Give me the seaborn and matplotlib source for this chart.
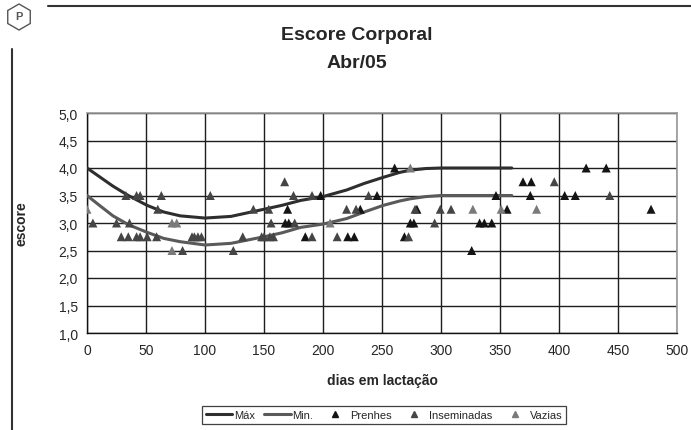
import numpy as np
import pandas as pd
import matplotlib.pyplot as plt
import matplotlib.ticker as mticker
from matplotlib.lines import Line2D
from matplotlib.patches import RegularPolygon
import seaborn as sns

# ---- curves (reference lines) ----
curve_days = [0, 10, 22, 35, 51, 65, 79, 100, 122, 150, 165, 181, 200, 220, 235, 251, 265, 274, 287, 300, 330, 360]
max_score = [4.0, 3.85, 3.67, 3.5, 3.32, 3.2, 3.13, 3.09, 3.12, 3.25, 3.32, 3.41, 3.48, 3.6, 3.72, 3.83, 3.92, 3.96, 3.99, 4.0, 4.0, 4.0]
min_score = [3.5, 3.33, 3.13, 2.97, 2.83, 2.72, 2.66, 2.6, 2.63, 2.75, 2.82, 2.92, 2.98, 3.08, 3.2, 3.32, 3.4, 3.44, 3.48, 3.5, 3.5, 3.5]

# ---- cows ----
prenhes_days = [170, 168, 171, 185, 198, 221, 226.5, 231.6, 245.8, 260.7, 269, 274, 277, 279.6, 326,
                332.7, 336.7, 343, 346.6, 356, 369.5, 376.5, 375.7, 404.8, 413.8, 423, 440, 478]
prenhes_score = [3.25, 3.0, 3.0, 2.75, 3.5, 2.75, 2.75, 3.25, 3.5, 4.0, 2.75, 3.0, 3.0, 3.25, 2.5,
                 3.0, 3.0, 3.0, 3.5, 3.25, 3.75, 3.75, 3.5, 3.5, 3.5, 4.0, 4.0, 3.25]

insem_days = [5, 25, 29, 33, 35, 36, 42, 45, 42, 45, 51, 59, 60, 63, 81, 89, 91, 94, 97, 104.5, 124, 132,
              141, 148, 150, 154, 155, 156, 158, 167.5, 175, 176, 190.7, 190.7, 212, 220, 228, 238.6,
              272.5, 278, 294.6, 299.4, 308.5, 396, 443]
insem_score = [3.0, 3.0, 2.75, 3.5, 2.75, 3.0, 3.5, 3.5, 2.75, 2.75, 2.75, 2.75, 3.25, 3.5, 2.5, 2.75, 2.75,
               2.75, 2.75, 3.5, 2.5, 2.75, 3.25, 2.75, 2.75, 3.25, 2.75, 3.0, 2.75, 3.75, 3.5, 3.0, 2.75,
               3.5, 2.75, 3.25, 3.25, 3.5, 2.75, 3.25, 3.0, 3.25, 3.25, 3.75, 3.5]

vazias_days = [0, 72, 76, 72, 206, 274, 327, 351, 381]
vazias_score = [3.25, 3.0, 3.0, 2.5, 3.0, 4.0, 3.25, 3.25, 3.25]

groups = ["Prenhes", "Inseminadas", "Vazias"]
colors = {"Prenhes": "#141414", "Inseminadas": "#454545", "Vazias": "#7a7a7a"}

df = pd.concat([
    pd.DataFrame({"dias": prenhes_days, "escore": prenhes_score, "grupo": "Prenhes"}),
    pd.DataFrame({"dias": insem_days, "escore": insem_score, "grupo": "Inseminadas"}),
    pd.DataFrame({"dias": vazias_days, "escore": vazias_score, "grupo": "Vazias"}),
])

sns.set_style("white")
plt.rcParams["font.family"] = ["Liberation Sans", "DejaVu Sans"]

fig = plt.figure(figsize=(6.91, 4.31), dpi=100)
ax = fig.add_axes([87 / 691, 1 - 334 / 431, 590 / 691, 220 / 431])

sns.lineplot(x=curve_days, y=max_score, color="#2e2e2e", lw=2.2, ax=ax, zorder=3)
sns.lineplot(x=curve_days, y=min_score, color="#5a5a5a", lw=2.2, ax=ax, zorder=3)
sns.scatterplot(data=df, x="dias", y="escore", hue="grupo", hue_order=groups, palette=colors,
                marker="^", s=42, linewidth=0, ax=ax, legend=False, zorder=4)

ax.set_xlim(0, 500)
ax.set_ylim(1.0, 5.0)
ax.set_xticks(np.arange(0, 501, 50))
ax.set_yticks(np.arange(1.0, 5.01, 0.5))
ax.yaxis.set_major_formatter(mticker.FuncFormatter(lambda v, p: f"{v:.1f}".replace(".", ",")))
ax.grid(True, color="#1e1e1e", lw=1.0)
ax.set_axisbelow(True)
for s in ["top", "right"]:
    ax.spines[s].set_color("#999999")
    ax.spines[s].set_linewidth(1.2)
for s in ["left", "bottom"]:
    ax.spines[s].set_color("#111111")
    ax.spines[s].set_linewidth(1.0)
ax.tick_params(axis="both", labelsize=10, direction="out", length=4, width=1, color="#111111", pad=3)
ax.tick_params(axis="y", direction="inout", length=7)

ax.set_xlabel("dias em lactação", fontsize=10, fontweight="bold", labelpad=12)
ax.set_ylabel("escore", fontsize=10, fontweight="bold", labelpad=22)

fig.text(357 / 691, 1 - 36 / 431, "Escore Corporal", ha="center", va="center", fontsize=14, fontweight="bold")
fig.text(357 / 691, 1 - 63 / 431, "Abr/05", ha="center", va="center", fontsize=14, fontweight="bold")

handles = [
    Line2D([], [], color="#2e2e2e", lw=2.2),
    Line2D([], [], color="#5a5a5a", lw=2.2),
] + [Line2D([], [], color=colors[g], marker="^", ls="none", markersize=5) for g in groups]
leg = fig.legend(handles, ["Máx", "Min.", "Prenhes", "Inseminadas", "Vazias"], loc="center",
                 bbox_to_anchor=(384 / 691, 1 - 416 / 431), ncol=5, fontsize=8, frameon=True,
                 fancybox=False, edgecolor="#111111", handlelength=2.4, handletextpad=0.15,
                 columnspacing=0.8, borderpad=0.35)
leg.get_frame().set_linewidth(0.9)

# page decorations
fig.add_artist(Line2D([48 / 691, 1], [1 - 7 / 431, 1 - 7 / 431], color="#333333", lw=1.5))
fig.add_artist(Line2D([12 / 691, 12 / 691], [0, 1 - 50 / 431], color="#333333", lw=1.5))
fig.add_artist(RegularPolygon((0.19, 4.13), numVertices=6, radius=0.13, orientation=0,
                              transform=fig.dpi_scale_trans, facecolor="white", edgecolor="#555555", lw=1))
fig.text(0.19 / 6.91, 4.14 / 4.31, "P", ha="center", va="center", fontsize=8, fontweight="bold", color="#555555")

fig.savefig("out.png", dpi=100)
